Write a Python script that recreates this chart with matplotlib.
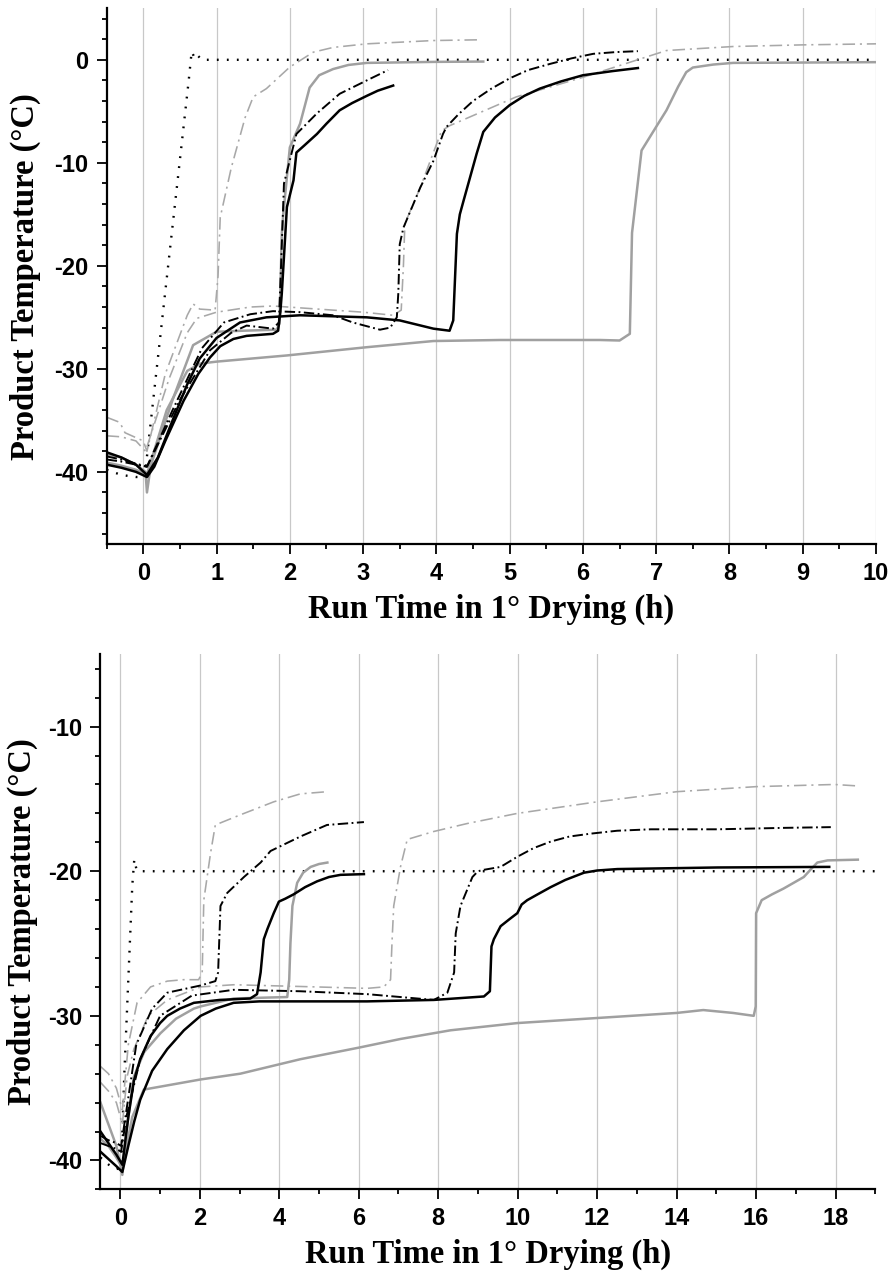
import matplotlib
matplotlib.use("Agg")
import matplotlib.pyplot as plt
from matplotlib.ticker import MultipleLocator

plt.rcParams['lines.scale_dashes'] = False

# ---------------- top panel data (x: h, y: deg C) ----------------
shelf_top_x = [-0.5, -0.3, -0.1, 0.02, 0.05, 0.3, 0.62, 0.66, 0.70, 0.73, 0.8, 10.0]
shelf_top_y = [-39.8, -40.3, -40.5, -40.5, -38.5, -22.5, -2.0, 0.8, 0.2, 0.5, 0.0, 0.0]

gdA_top_x = [-0.5, -0.32, -0.25, 0.0, 0.05, 0.3, 0.6, 0.68, 0.77, 0.98, 1.02, 1.05, 1.2, 1.39, 1.5, 1.68, 2.0, 2.32, 2.59, 3.05, 3.96, 4.57]
gdA_top_y = [-34.7, -35.2, -36.2, -37.0, -38.0, -30.5, -24.8, -23.7, -24.2, -24.3, -21.0, -15.3, -10.5, -5.6, -3.6, -2.8, -0.7, 0.74, 1.2, 1.55, 1.87, 1.94]

gdB_top_x = [-0.5, -0.3, -0.1, 0.03, 0.35, 0.6, 0.73, 1.0, 1.46, 1.77, 2.59, 3.0, 3.41, 3.52, 3.55, 3.57, 3.78, 4.07, 4.18, 5.09, 6.0, 7.14, 8.05, 9.0, 10.0]
gdB_top_y = [-36.5, -36.6, -37.0, -38.0, -31.0, -26.5, -25.1, -24.5, -24.0, -23.9, -24.3, -24.5, -24.8, -24.3, -20.0, -15.9, -12.4, -6.9, -6.4, -3.6, -1.7, 0.9, 1.29, 1.45, 1.55]

gs1_top_x = [-0.5, -0.3, -0.1, 0.03, 0.05, 0.08, 0.12, 0.4, 0.68, 1.0, 1.36, 1.82, 1.86, 1.89, 1.91, 2.0, 2.14, 2.27, 2.4, 2.59, 2.8, 3.05, 4.0, 4.64]
gs1_top_y = [-38.3, -38.6, -39.3, -40.0, -42.0, -40.5, -39.0, -33.0, -27.7, -26.4, -26.3, -26.2, -25.6, -16.9, -15.0, -8.5, -6.2, -2.7, -1.5, -0.9, -0.5, -0.3, -0.2, -0.17]

gs2_top_x = [-0.5, -0.3, -0.1, 0.03, 0.06, 0.32, 0.6, 0.77, 1.0, 1.96, 3.05, 3.96, 4.87, 6.23, 6.5, 6.64, 6.67, 6.8, 7.0, 7.14, 7.3, 7.41, 7.5, 7.78, 8.05, 10.0]
gs2_top_y = [-39.1, -39.4, -39.8, -40.2, -40.0, -34.0, -30.2, -29.5, -29.3, -28.7, -27.9, -27.3, -27.2, -27.2, -27.25, -26.6, -16.8, -8.8, -6.5, -4.9, -2.6, -1.2, -0.75, -0.46, -0.3, -0.23]

bs1_top_x = [-0.5, -0.3, -0.1, 0.05, 0.15, 0.3, 0.55, 0.75, 0.91, 1.05, 1.23, 1.41, 1.77, 1.84, 1.87, 1.89, 1.96, 2.05, 2.09, 2.2, 2.37, 2.5, 2.68, 2.85, 3.05, 3.2, 3.41]
bs1_top_y = [-39.3, -39.6, -40.0, -40.5, -39.5, -37.0, -33.1, -30.5, -28.9, -27.8, -27.1, -26.8, -26.6, -26.3, -24.5, -22.7, -14.3, -11.7, -9.0, -8.3, -7.2, -6.2, -4.9, -4.2, -3.5, -3.0, -2.5]

bs2_top_x = [-0.5, -0.3, -0.1, 0.05, 0.2, 0.4, 0.6, 0.77, 1.0, 1.32, 1.68, 2.14, 3.05, 3.5, 3.96, 4.18, 4.23, 4.28, 4.32, 4.37, 4.55, 4.64, 4.8, 5.0, 5.2, 5.41, 5.7, 6.0, 6.4, 6.75]
bs2_top_y = [-38.1, -38.6, -39.3, -40.3, -38.6, -35.0, -31.5, -29.0, -27.0, -25.5, -25.0, -24.8, -25.0, -25.3, -26.1, -26.3, -25.3, -16.9, -15.0, -13.7, -9.1, -7.0, -5.6, -4.4, -3.5, -2.8, -2.1, -1.5, -1.1, -0.8]

bd1_top_x = [-0.5, -0.3, -0.1, 0.05, 0.5, 0.91, 1.2, 1.41, 1.77, 1.85, 1.88, 1.92, 2.09, 2.37, 2.68, 3.05, 3.34]
bd1_top_y = [-38.8, -39.0, -39.3, -39.5, -33.0, -28.2, -26.5, -25.8, -26.1, -25.5, -20.0, -12.0, -7.2, -5.2, -3.3, -2.0, -1.0]

bd2_top_x = [-0.5, -0.3, -0.1, 0.05, 0.4, 0.8, 1.1, 1.46, 1.77, 2.14, 2.59, 2.86, 3.23, 3.37, 3.46, 3.48, 3.5, 3.55, 3.78, 3.96, 4.09, 4.14, 4.3, 4.5, 4.75, 5.0, 5.25, 5.55, 5.85, 6.14, 6.45, 6.75]
bd2_top_y = [-38.5, -38.8, -39.2, -39.5, -34.0, -28.0, -25.5, -24.7, -24.4, -24.5, -24.8, -25.5, -26.2, -26.0, -25.0, -22.7, -17.9, -16.3, -12.4, -9.8, -7.2, -6.5, -5.3, -4.0, -2.8, -1.8, -1.0, -0.4, 0.15, 0.58, 0.75, 0.84]

# ---------------- bottom panel data ----------------
shelf_bot_x = [-0.5, -0.29, -0.1, 0.02, 0.1, 0.3, 0.35, 0.4, 0.45, 19.0]
shelf_bot_y = [-39.8, -40.3, -40.6, -40.5, -34.0, -21.0, -19.2, -19.8, -20.0, -20.0]

gdb1_x = [-0.5, -0.3, -0.1, 0.05, 0.2, 0.42, 0.76, 1.18, 1.59, 1.97, 2.06, 2.1, 2.27, 2.39, 3.02, 3.86, 4.53, 5.2]
gdb1_y = [-33.5, -34.0, -35.0, -36.5, -32.0, -29.1, -28.0, -27.6, -27.5, -27.5, -27.0, -22.0, -18.75, -16.8, -16.1, -15.2, -14.65, -14.5]

gdb2_x = [-0.5, -0.3, -0.1, 0.05, 0.17, 0.34, 0.7, 1.18, 2.02, 2.85, 4.53, 6.21, 6.63, 6.8, 6.84, 6.88, 7.05, 7.22, 7.89, 8.73, 9.99, 12.0, 14.0, 16.0, 17.97, 18.55]
gdb2_y = [-34.6, -35.2, -36.0, -37.5, -34.2, -32.3, -30.0, -28.9, -28.0, -27.85, -27.97, -28.1, -28.0, -27.5, -24.7, -22.4, -19.7, -17.8, -17.25, -16.7, -16.0, -15.2, -14.5, -14.15, -14.0, -14.1]

gsb1_x = [-0.5, -0.3, -0.1, 0.05, 0.15, 0.34, 0.6, 1.01, 1.4, 1.85, 2.02, 2.85, 4.2, 4.25, 4.28, 4.33, 4.45, 4.6, 4.79, 5.0, 5.21]
gsb1_y = [-36.0, -37.5, -39.0, -41.0, -38.0, -34.2, -32.5, -31.2, -30.2, -29.5, -29.35, -28.8, -28.7, -27.5, -25.0, -22.4, -20.8, -20.1, -19.7, -19.5, -19.4]

gsb2_x = [-0.5, -0.3, -0.1, 0.05, 0.3, 0.59, 2.02, 3.02, 4.53, 6.0, 7.05, 8.31, 9.99, 12.0, 14.0, 14.67, 15.42, 15.94, 15.99, 16.0, 16.14, 16.4, 16.69, 17.2, 17.4, 17.54, 17.8, 18.56]
gsb2_y = [-38.5, -39.0, -39.8, -40.5, -37.0, -35.1, -34.4, -34.0, -33.0, -32.2, -31.6, -31.0, -30.5, -30.15, -29.8, -29.6, -29.8, -30.0, -29.35, -22.9, -22.0, -21.6, -21.2, -20.4, -19.8, -19.4, -19.25, -19.2]

bsb1_x = [-0.5, -0.3, -0.1, 0.05, 0.2, 0.34, 0.5, 0.76, 1.0, 1.18, 1.5, 1.85, 2.5, 3.27, 3.44, 3.53, 3.61, 3.7, 3.86, 3.99, 4.15, 4.36, 4.65, 4.95, 5.25, 5.54, 6.13]
bsb1_y = [-38.0, -38.8, -39.6, -40.3, -37.0, -34.5, -33.0, -31.4, -30.5, -30.0, -29.5, -29.1, -28.9, -28.8, -28.5, -27.0, -24.7, -24.0, -22.9, -22.1, -21.9, -21.6, -21.1, -20.7, -20.4, -20.25, -20.2]

bsb2_x = [-0.5, -0.3, -0.1, 0.05, 0.2, 0.35, 0.5, 0.8, 1.18, 1.6, 2.02, 2.4, 2.85, 3.5, 4.53, 6.21, 7.89, 9.15, 9.3, 9.34, 9.4, 9.57, 9.8, 9.99, 10.1, 10.24, 10.5, 10.83, 11.2, 11.67, 12.0, 12.51, 15.03, 17.84]
bsb2_y = [-39.4, -39.9, -40.4, -40.8, -39.0, -37.3, -35.8, -33.8, -32.3, -31.0, -30.0, -29.5, -29.1, -29.0, -29.0, -29.0, -28.9, -28.66, -28.3, -25.2, -24.7, -23.8, -23.3, -22.9, -22.3, -22.0, -21.6, -21.1, -20.6, -20.1, -19.95, -19.85, -19.74, -19.7]

bdb1_x = [-0.5, -0.3, -0.1, 0.02, 0.1, 0.4, 0.8, 1.18, 2.02, 2.39, 2.46, 2.52, 2.69, 3.11, 3.53, 3.78, 4.53, 5.2, 6.13]
bdb1_y = [-38.3, -38.6, -38.8, -39.0, -37.5, -32.0, -29.5, -28.4, -27.9, -27.6, -27.0, -22.4, -21.5, -20.4, -19.4, -18.6, -17.6, -16.8, -16.6]

bdb2_x = [-0.5, -0.3, -0.1, 0.02, 0.15, 0.5, 1.0, 1.8, 2.85, 4.53, 6.21, 7.89, 8.23, 8.4, 8.44, 8.56, 8.86, 9.0, 9.15, 9.57, 9.99, 10.4, 10.83, 11.3, 11.84, 12.5, 13.35, 15.03, 16.71, 17.88]
bdb2_y = [-38.8, -39.0, -39.2, -39.4, -37.0, -33.0, -30.0, -28.6, -28.2, -28.3, -28.5, -28.9, -28.4, -27.0, -24.3, -22.4, -20.4, -20.0, -19.9, -19.7, -19.0, -18.4, -17.95, -17.6, -17.4, -17.2, -17.1, -17.1, -17.0, -16.95]

top_xticks = [0, 1, 2, 3, 4, 5, 6, 7, 8, 9, 10]
top_yticks = [0, -10, -20, -30, -40]
bot_xticks = [0, 2, 4, 6, 8, 10, 12, 14, 16, 18]
bot_yticks = [-10, -20, -30, -40]
xlabel_text = "Run Time in 1° Drying (h)"
ylabel_text = "Product Temperature (°C)"

# ---------------- styles ----------------
GRAY = '#a0a0a0'
GRAY_DD = '#a8a8a8'
st_solid_k = dict(color='black', lw=1.8, ls='-')
st_solid_g = dict(color=GRAY, lw=1.8, ls='-')
st_dd_k = dict(color='black', lw=1.4, ls=(0, (7.5, 2.5, 1.3, 2.5)))
st_dd_g = dict(color=GRAY_DD, lw=1.15, ls=(0, (9, 3.5, 1.5, 3.5)))
st_dot = dict(color='black', lw=1.7, ls=(0, (1.3, 5.9)))

fig = plt.figure(figsize=(8.94, 12.76), dpi=100)
ax1 = fig.add_axes([0.1193, 0.5737, 0.8606, 0.4198])
ax2 = fig.add_axes([0.1124, 0.0679, 0.8667, 0.4193])

tick_font = dict(family='Liberation Sans', weight='bold', size=17)
label_font = dict(family='Liberation Serif', weight='bold', size=23.5)


def style_axes(ax, xlim, ylim, xticks, yticks, xminor, yminor):
    ax.set_xlim(*xlim)
    ax.set_ylim(*ylim)
    ax.spines['top'].set_visible(False)
    ax.spines['right'].set_visible(False)
    ax.spines['left'].set_linewidth(1.6)
    ax.spines['bottom'].set_linewidth(1.6)
    ax.set_xticks(xticks)
    ax.set_yticks(yticks)
    ax.xaxis.set_minor_locator(MultipleLocator(xminor))
    ax.yaxis.set_minor_locator(MultipleLocator(yminor))
    ax.tick_params(which='major', direction='out', length=7, width=1.3, pad=6)
    ax.tick_params(which='minor', direction='out', length=3.6, width=1.3)
    ax.set_xticklabels([str(t) for t in xticks], fontdict=tick_font)
    ax.set_yticklabels([str(t) for t in yticks], fontdict=tick_font)
    ax.grid(axis='x', which='major', color='#c8c8c8', lw=0.9)
    ax.set_axisbelow(True)
    ax.set_xlabel(xlabel_text, fontdict=label_font, labelpad=6)
    ax.set_ylabel(ylabel_text, fontdict=label_font)


# top panel
ax1.plot(shelf_top_x, shelf_top_y, **st_dot)
ax1.plot(gdA_top_x, gdA_top_y, **st_dd_g)
ax1.plot(gdB_top_x, gdB_top_y, **st_dd_g)
ax1.plot(gs1_top_x, gs1_top_y, **st_solid_g)
ax1.plot(gs2_top_x, gs2_top_y, **st_solid_g)
ax1.plot(bd1_top_x, bd1_top_y, **st_dd_k)
ax1.plot(bd2_top_x, bd2_top_y, **st_dd_k)
ax1.plot(bs1_top_x, bs1_top_y, **st_solid_k)
ax1.plot(bs2_top_x, bs2_top_y, **st_solid_k)
style_axes(ax1, (-0.5, 10), (-47, 5), top_xticks, top_yticks, 0.5, 2)
ax1.yaxis.set_label_coords(-0.085, 0.5)

# bottom panel
ax2.plot(shelf_bot_x, shelf_bot_y, **st_dot)
ax2.plot(gdb1_x, gdb1_y, **st_dd_g)
ax2.plot(gdb2_x, gdb2_y, **st_dd_g)
ax2.plot(gsb1_x, gsb1_y, **st_solid_g)
ax2.plot(gsb2_x, gsb2_y, **st_solid_g)
ax2.plot(bdb1_x, bdb1_y, **st_dd_k)
ax2.plot(bdb2_x, bdb2_y, **st_dd_k)
ax2.plot(bsb1_x, bsb1_y, **st_solid_k)
ax2.plot(bsb2_x, bsb2_y, **st_solid_k)
style_axes(ax2, (-0.5, 19), (-42, -5), bot_xticks, bot_yticks, 1, 2)
ax2.yaxis.set_label_coords(-0.080, 0.5)

fig.savefig('out.png', dpi=100)
